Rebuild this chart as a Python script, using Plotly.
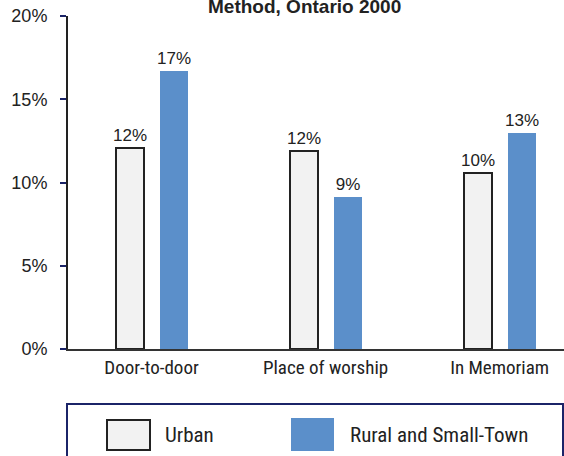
import plotly.graph_objects as go

# ---- data ----
categories = ["Door-to-door", "Place of worship", "In Memoriam"]
urban_values = [12.1, 11.9, 10.6]
rural_values = [16.7, 9.1, 13.0]
urban_labels = ["12%", "12%", "10%"]
rural_labels = ["17%", "9%", "13%"]
y_tick_values = [0, 5, 10, 15, 20]
y_tick_labels = ["0%", "5%", "10%", "15%", "20%"]
series_names = ["Urban", "Rural and Small-Town"]
title_text = "Method, Ontario 2000"

# ---- styling ----
W, H = 564, 456
ML, MR, MT, MB = 68, 0, 16, 107
PW, PH = W - ML - MR, H - MT - MB
NARROW = "Roboto Condensed, Liberation Sans Narrow, Arial Narrow, sans-serif"
SANS = "Liberation Sans, Arial, sans-serif"
TXT = "#222222"
URBAN_FILL = "#F2F2F2"
RURAL_FILL = "#5B8FCA"
NAVY = "#1B2468"

def px_x(px):
    return (px - ML) / PW

def px_y(py):
    return (H - MB - py) / PH

x_pos = list(range(len(categories)))

fig = go.Figure()
fig.add_trace(go.Bar(
    x=x_pos, y=urban_values, name=series_names[0],
    text=urban_labels, textposition="outside", constraintext="none",
    textfont=dict(family=SANS, size=17, color=TXT),
    marker=dict(color=URBAN_FILL, line=dict(color=TXT, width=2)),
    width=0.16, offset=-0.205, cliponaxis=False, showlegend=False,
))
fig.add_trace(go.Bar(
    x=x_pos, y=rural_values, name=series_names[1],
    text=rural_labels, textposition="outside", constraintext="none",
    textfont=dict(family=SANS, size=17, color=TXT),
    marker=dict(color=RURAL_FILL, line=dict(width=0)),
    width=0.162, offset=0.048, cliponaxis=False, showlegend=False,
))

fig.update_layout(
    width=W, height=H,
    margin=dict(l=ML, r=MR, t=MT, b=MB),
    plot_bgcolor="white", paper_bgcolor="white",
    font=dict(family=SANS, size=17, color=TXT),
    bargap=0, barmode="overlay",
    xaxis=dict(
        range=[-0.48, 2.37], tickmode="array", tickvals=x_pos, ticktext=categories,
        showline=True, linecolor="#333333", linewidth=2, showgrid=False,
        ticks="", tickfont=dict(family=NARROW, size=19, color=TXT), zeroline=False,
    ),
    yaxis=dict(
        range=[0, 20], tickmode="array", tickvals=y_tick_values, ticktext=y_tick_labels,
        showline=True, linecolor="#222222", linewidth=2, showgrid=False, zeroline=False,
        ticks="outside", ticklen=6, tickwidth=2, tickcolor=NAVY,
        tickfont=dict(family=SANS, size=18, color=TXT), ticklabelstandoff=9,
    ),
)

# partial title (top is cut off in the reference)
fig.add_annotation(
    text="<b>" + title_text + "</b>", xref="paper", yref="paper",
    x=px_x(304), y=px_y(19), xanchor="center", yanchor="bottom",
    showarrow=False, font=dict(family=SANS, size=19, color=TXT),
)

# legend drawn as a framed box with large swatches
fig.add_shape(type="rect", xref="paper", yref="paper",
              x0=px_x(67), x1=px_x(563), y0=px_y(470), y1=px_y(404),
              line=dict(color=NAVY, width=2), fillcolor="rgba(0,0,0,0)")
fig.add_shape(type="rect", xref="paper", yref="paper",
              x0=px_x(107), x1=px_x(150), y0=px_y(450), y1=px_y(420),
              line=dict(color=TXT, width=2), fillcolor=URBAN_FILL)
fig.add_shape(type="rect", xref="paper", yref="paper",
              x0=px_x(291), x1=px_x(334), y0=px_y(451), y1=px_y(418),
              line=dict(width=0), fillcolor=RURAL_FILL)
fig.add_annotation(text=series_names[0], xref="paper", yref="paper",
                   x=px_x(163), y=px_y(435), xanchor="left", yanchor="middle",
                   showarrow=False, font=dict(family=NARROW, size=21, color=TXT))
fig.add_annotation(text=series_names[1], xref="paper", yref="paper",
                   x=px_x(348), y=px_y(435), xanchor="left", yanchor="middle",
                   showarrow=False, font=dict(family=NARROW, size=21, color=TXT))

fig.write_html("out.html", config={"displayModeBar": False},
               post_script="document.body.style.margin='0';")
